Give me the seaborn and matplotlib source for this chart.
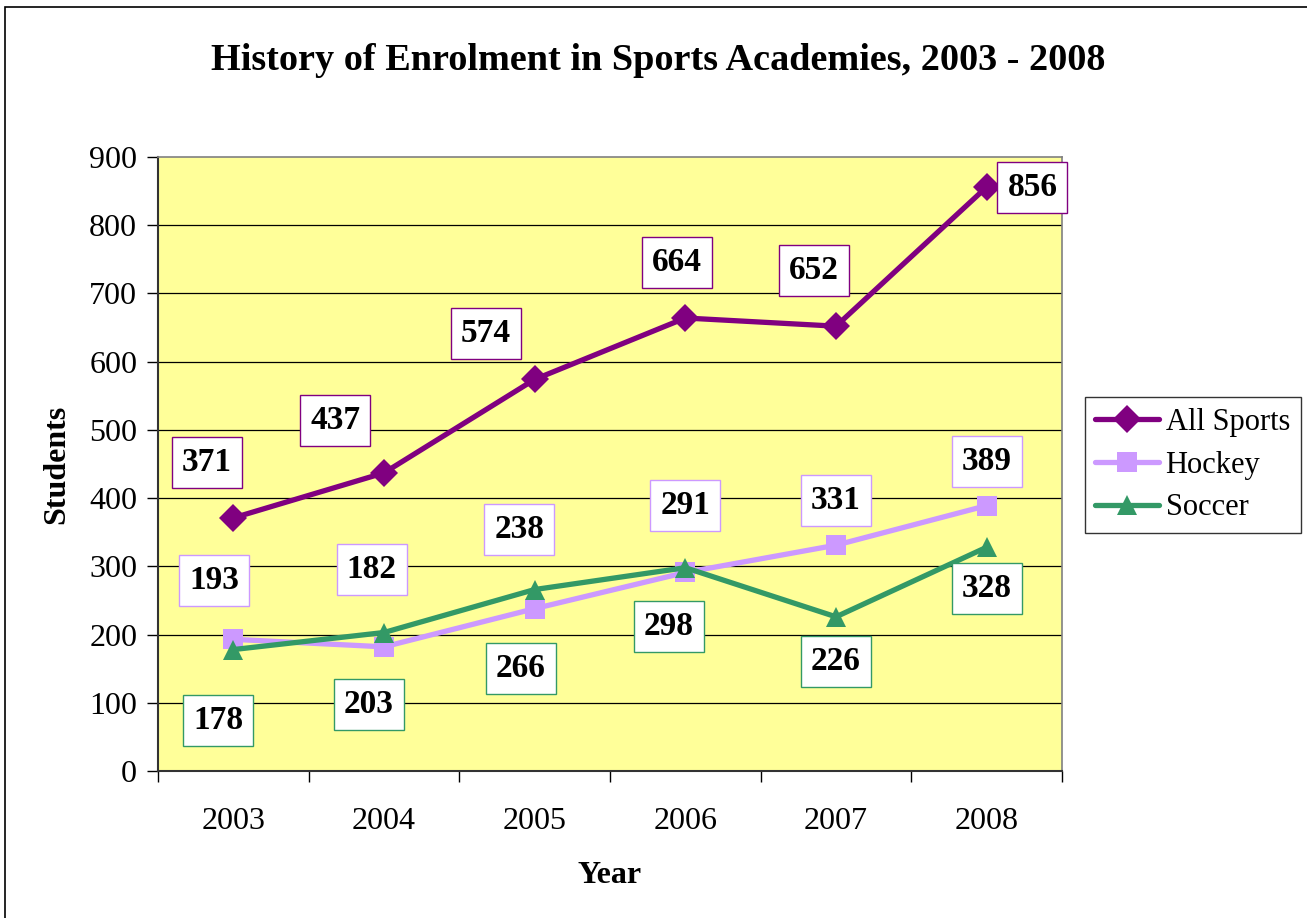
import pandas as pd
import matplotlib.pyplot as plt
import seaborn as sns
import numpy as np
from matplotlib.patches import Rectangle

# data
years = ['2003', '2004', '2005', '2006', '2007', '2008']
all_sports = [371, 437, 574, 664, 652, 856]
hockey = [193, 182, 238, 291, 331, 389]
soccer = [178, 203, 266, 298, 226, 328]

series_names = ['All Sports', 'Hockey', 'Soccer']
colors = ['#800080', '#CC99FF', '#339966']
markers = ['D', 's', '^']

# label offsets (points) for each series' data labels
offsets = {
    'All Sports': [(-19, 40), (-35, 38), (-35, 33), (-6, 40), (-16, 40), (33, 0)],
    'Hockey': [(-14, 42), (-9, 56), (-11, 57), (0, 48), (0, 32), (0, 32)],
    'Soccer': [(-11, -51), (-11, -52), (-10, -57), (-12, -42), (0, -32), (0, -30)],
}

df = pd.DataFrame({
    'Year': years * 3,
    'x': list(range(len(years))) * 3,
    'Students': all_sports + hockey + soccer,
    'Series': sum([[s] * len(years) for s in series_names], []),
})

sns.set_style('white')
plt.rcParams['font.family'] = ['Liberation Serif', 'DejaVu Serif']
plt.rcParams['text.color'] = 'black'
plt.rcParams['axes.labelcolor'] = 'black'
plt.rcParams['xtick.color'] = 'black'
plt.rcParams['ytick.color'] = 'black'

fig = plt.figure(figsize=(13.07, 9.18), dpi=100)
ax = fig.add_axes([158 / 1307, 147 / 918, 904 / 1307, 614 / 918])
ax.set_facecolor('#FFFF99')

# outer chart border
fig.patches.append(Rectangle((5 / 1307, -0.02), 1.1, (911 / 918) + 0.02,
                             transform=fig.transFigure, fill=False,
                             edgecolor='black', linewidth=1.2))

for y in range(100, 900, 100):
    ax.axhline(y, color='black', linewidth=0.9, zorder=1)

sns.lineplot(data=df, x='x', y='Students', hue='Series', style='Series',
             palette=dict(zip(series_names, colors)),
             markers=dict(zip(series_names, markers)), dashes=False,
             linewidth=3.8, markersize=14, markeredgewidth=0, ax=ax, zorder=3)

for name, col in zip(series_names, colors):
    vals = df[df['Series'] == name]['Students'].tolist()
    for i, v in enumerate(vals):
        ax.annotate(str(v), (i, v), xytext=offsets[name][i], textcoords='offset points',
                    ha='center', va='center', fontsize=24, fontweight='bold', color='black',
                    bbox=dict(boxstyle='square,pad=0.3', facecolor='white',
                              edgecolor=col, linewidth=1.0), zorder=5)

ax.set_xlim(-0.5, 5.5)
ax.set_ylim(0, 900)
ax.set_yticks(range(0, 1000, 100))
ax.set_xticks(range(len(years)))
ax.set_xticklabels(years)
ax.set_xticks(np.arange(-0.5, 6, 1), minor=True)
ax.tick_params(axis='x', which='major', length=0, pad=26, labelsize=23, labelcolor='black')
ax.tick_params(axis='x', which='minor', length=8, width=1, color='black', direction='out')
ax.tick_params(axis='y', length=8, width=1, color='black', direction='out', pad=7,
               labelsize=23, labelcolor='black')
ax.yaxis.set_ticks_position('left')
ax.xaxis.set_ticks_position('bottom')

for side in ['top', 'right']:
    ax.spines[side].set_color('#808080')
    ax.spines[side].set_linewidth(1.2)
for side in ['left', 'bottom']:
    ax.spines[side].set_color('#333333')
    ax.spines[side].set_linewidth(1.5)

ax.set_xlabel('Year', fontsize=23, fontweight='bold', labelpad=18)
ax.set_ylabel('Students', fontsize=23, fontweight='bold', labelpad=13)
fig.text(658 / 1307, 1 - 60 / 918, 'History of Enrolment in Sports Academies, 2003 - 2008',
         ha='center', va='center', fontsize=27.5, fontweight='bold')

leg = ax.legend(loc='center left', bbox_to_anchor=(1.025, 0.498), frameon=True,
                fontsize=22, handlelength=2.1, handletextpad=0.2, borderpad=0.35,
                labelspacing=0.45, fancybox=False, borderaxespad=0)
leg.get_frame().set_edgecolor('black')
leg.get_frame().set_linewidth(1.0)
for h in leg.legend_handles:
    h.set_linewidth(3.8)
    h.set_markersize(14)

fig.savefig('out.png', dpi=100)
